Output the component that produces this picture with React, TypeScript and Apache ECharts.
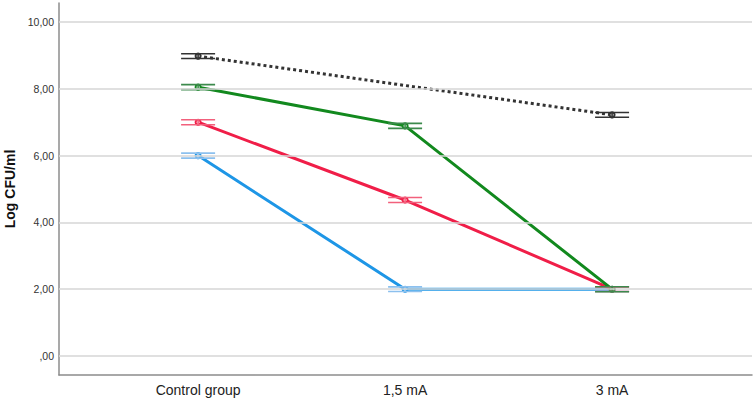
import React, { useEffect, useRef } from "react";
import * as echarts from "echarts";

const categories = ["Control group", "1,5 mA", "3 mA"];
const yTicks = [0, 2, 4, 6, 8, 10];

const blackMean: (number | null)[] = [8.98, null, 7.22];
const blackErr: (number | null)[] = [0.07, null, 0.07];
const greenMean: (number | null)[] = [8.05, 6.89, 2.0];
const greenErr: (number | null)[] = [0.075, 0.075, 0.075];
const redMean: (number | null)[] = [7.0, 4.67, 2.0];
const redErr: (number | null)[] = [0.075, 0.075, 0.07];
const blueMean: (number | null)[] = [6.0, 2.0, 2.0];
const blueErr: (number | null)[] = [0.075, 0.07, 0.07];

const FONT = "'Liberation Sans', Arial, sans-serif";

function pts(mean: (number | null)[]) {
  const out: number[][] = [];
  mean.forEach((v, i) => {
    if (v != null) out.push([i, v]);
  });
  return out;
}

function errData(mean: (number | null)[], err: (number | null)[]) {
  const out: number[][] = [];
  mean.forEach((v, i) => {
    if (v != null && err[i] != null) out.push([i, v - (err[i] as number), v + (err[i] as number)]);
  });
  return out;
}

function lineSeries(name: string, mean: (number | null)[], color: string, type: string) {
  return {
    name,
    type: "line",
    data: pts(mean),
    symbol: "emptyCircle",
    symbolSize: 5,
    lineStyle: { color, width: 3, type },
    itemStyle: { color, borderWidth: 1.5 },
    z: 3,
  };
}

function errSeries(name: string, mean: (number | null)[], err: (number | null)[], color: string) {
  return {
    name: name + "-err",
    type: "custom",
    data: errData(mean, err),
    z: 4,
    renderItem: (params: any, api: any) => {
      const x = api.value(0);
      const lo = api.coord([x, api.value(1)]);
      const hi = api.coord([x, api.value(2)]);
      const hw = 17;
      const style = { stroke: color, lineWidth: 1.6, fill: null };
      return {
        type: "group",
        children: [
          { type: "line", shape: { x1: lo[0] - hw, y1: lo[1], x2: lo[0] + hw, y2: lo[1] }, style },
          { type: "line", shape: { x1: hi[0] - hw, y1: hi[1], x2: hi[0] + hw, y2: hi[1] }, style },
          { type: "line", shape: { x1: lo[0], y1: lo[1], x2: hi[0], y2: hi[1] }, style },
        ],
      };
    },
  };
}

export default function App() {
  const ref = useRef<HTMLDivElement>(null);
  useEffect(() => {
    if (!ref.current) return;
    const chart = echarts.init(ref.current, null, { renderer: "svg" });
    chart.setOption({
      animation: false,
      backgroundColor: "#ffffff",
      grid: { left: 59, right: 3, top: 3, bottom: 26, outerBoundsMode: "none", containLabel: false },
      xAxis: {
        type: "value",
        min: -0.672,
        max: 2.676,
        axisLine: { show: true, onZero: false, lineStyle: { color: "#8c8c8c", width: 1.5 } },
        axisTick: { show: false },
        splitLine: { show: false },
        axisLabel: {
          customValues: [0, 1, 2],
          formatter: (v: number) => categories[Math.round(v)] ?? "",
          color: "#222",
          fontFamily: FONT,
          fontSize: 14,
          margin: 8,
        },
      },
      yAxis: {
        type: "value",
        min: -0.57,
        max: 10.57,
        name: "Log CFU/ml",
        nameLocation: "middle",
        nameGap: 40,
        nameRotate: 90,
        nameTextStyle: { fontFamily: FONT, fontSize: 14, fontWeight: "bold", color: "#111" },
        axisLine: { show: true, onZero: false, lineStyle: { color: "#8c8c8c", width: 1.5 } },
        axisTick: { show: false },
        splitLine: { show: false },
        axisLabel: {
          customValues: yTicks,
          formatter: (v: number) => (v === 0 ? ",00" : v.toFixed(2).replace(".", ",")),
          color: "#333",
          fontFamily: FONT,
          fontSize: 10.5,
          margin: 5,
        },
      },
      series: [
        {
          name: "grid",
          type: "line",
          data: [],
          silent: true,
          z: 1,
          markLine: {
            silent: true,
            symbol: ["none", "none"],
            label: { show: false },
            lineStyle: { color: "#d6d6d6", width: 1.5, type: "solid" },
            data: yTicks.map((t) => ({ yAxis: t })),
          },
        },
        lineSeries("blue", blueMean, "#1e96e6", "solid"),
        lineSeries("red", redMean, "#f01e48", "solid"),
        lineSeries("green", greenMean, "#12891e", "solid"),
        lineSeries("black", blackMean, "#333333", "dotted"),
        errSeries("blue", blueMean, blueErr, "#8cc0ee"),
        errSeries("red", redMean, redErr, "#f2607c"),
        errSeries("black", blackMean, blackErr, "#333333"),
        errSeries("green", greenMean, greenErr, "#3c8a4c"),
      ],
    });
    return () => chart.dispose();
  }, []);
  return (
    <div
      ref={ref}
      style={{ position: "absolute", left: 0, top: 0, width: 755, height: 401, background: "#fff" }}
    />
  );
}
